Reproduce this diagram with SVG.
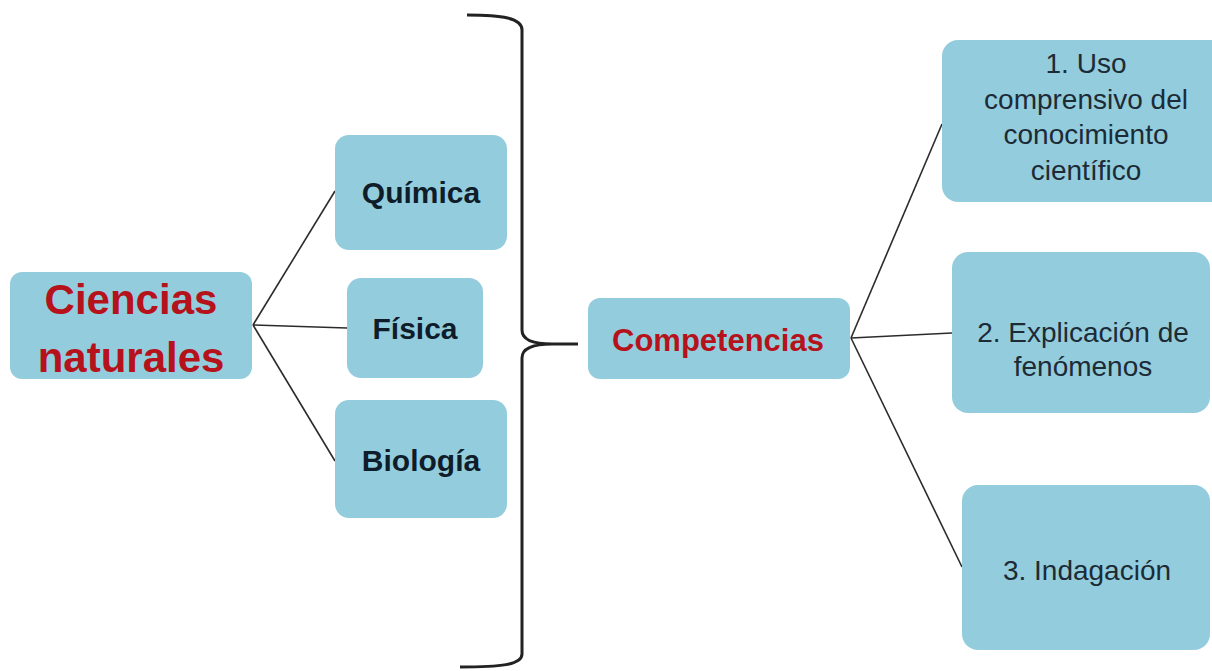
<svg xmlns="http://www.w3.org/2000/svg" width="1212" height="671" viewBox="0 0 1212 671">
<style>
.box{fill:#93cddd;}
.b{font-family:"Liberation Sans",Arial,sans-serif;font-weight:bold;text-anchor:middle;}
.r{font-family:"Liberation Sans",Arial,sans-serif;text-anchor:middle;fill:#1c2b36;font-size:28px;}
.red{fill:#b5121b;}
.dk{fill:#0f1d2a;font-size:30px;}
.ln{stroke:#2b2b2b;stroke-width:1.6;fill:none;}
</style>
<rect width="1212" height="671" fill="#ffffff"/>
<g id="connectors">
<line class="ln" x1="253" y1="325" x2="335" y2="191"/>
<line class="ln" x1="253" y1="325" x2="347" y2="328"/>
<line class="ln" x1="253" y1="325" x2="335" y2="461"/>
<line class="ln" x1="851" y1="338" x2="942" y2="124"/>
<line class="ln" x1="851" y1="338" x2="952" y2="333"/>
<line class="ln" x1="851" y1="338" x2="962" y2="567"/>
<path id="brace" d="M467,15 C502,15 522,18 522,30 L522,330 C522,340 532,344 552,344 L578,344 M552,344 C532,344 522,348 522,358 L522,654 C522,665 500,667 460,667" fill="none" stroke="#222" stroke-width="3"/>
</g>
<g id="ciencias">
<rect class="box" x="10" y="272" width="242" height="107" rx="12"/>
<text class="b red" x="131" y="314" font-size="42">Ciencias</text>
<text class="b red" x="131" y="372" font-size="42">naturales</text>
</g>
<g id="quimica">
<rect class="box" x="335" y="135" width="172" height="115" rx="14"/>
<text class="b dk" x="421" y="203">Química</text>
</g>
<g id="fisica">
<rect class="box" x="347" y="278" width="136" height="100" rx="14"/>
<text class="b dk" x="415" y="339">Física</text>
</g>
<g id="biologia">
<rect class="box" x="335" y="400" width="172" height="118" rx="14"/>
<text class="b dk" x="421" y="471">Biología</text>
</g>
<g id="competencias">
<rect class="box" x="588" y="298" width="262" height="81" rx="12"/>
<text class="b red" x="718" y="351" font-size="31">Competencias</text>
</g>
<g id="uso">
<rect class="box" x="942" y="40" width="290" height="162" rx="16"/>
<text class="r" x="1086" y="73">1. Uso</text>
<text class="r" x="1086" y="109">comprensivo del</text>
<text class="r" x="1086" y="144">conocimiento</text>
<text class="r" x="1086" y="180">científico</text>
</g>
<g id="explicacion">
<rect class="box" x="952" y="252" width="258" height="161" rx="16"/>
<text class="r" x="1083" y="342">2. Explicación de</text>
<text class="r" x="1083" y="376">fenómenos</text>
</g>
<g id="indagacion">
<rect class="box" x="962" y="485" width="248" height="165" rx="16"/>
<text class="r" x="1087" y="580">3. Indagación</text>
</g>
</svg>
